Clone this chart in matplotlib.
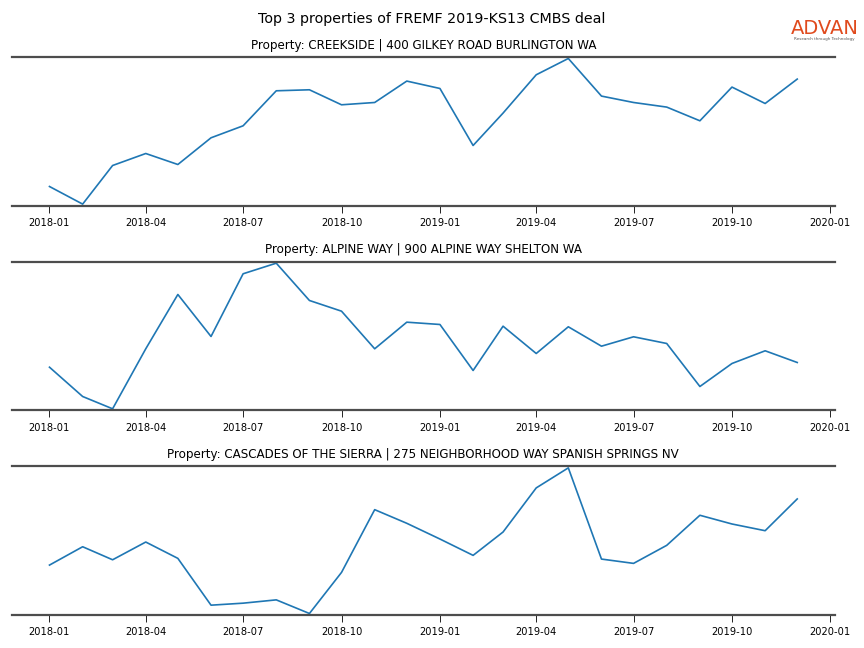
import pandas as pd
import matplotlib.pyplot as plt
import matplotlib.dates as mdates

# monthly foot traffic index, Jan 2018 - Dec 2019
months = pd.date_range("2018-01-01", "2019-12-01", freq="MS")

creekside = [18.3, 0.7, 39.3, 51.3, 40.3, 67.0, 79.0, 114.0, 115.0, 100.0, 102.3, 123.7,
             116.3, 59.3, 91.7, 130.0, 146.3, 108.7, 102.3, 97.7, 84.0, 117.7, 101.3, 125.7]
alpine_way = [43.3, 14.0, 1.7, 61.7, 116.0, 74.0, 136.7, 147.3, 110.0, 99.3, 61.7, 88.3,
              86.0, 40.0, 84.3, 57.0, 83.7, 64.3, 73.7, 67.0, 24.0, 47.0, 59.7, 48.0]
cascades = [50.7, 69.0, 56.0, 73.7, 57.4, 10.7, 12.7, 16.0, 2.4, 43.4, 106.0, 92.4,
            76.7, 60.4, 83.7, 127.7, 147.7, 56.7, 52.4, 70.4, 100.4, 91.7, 85.0, 116.7]

titles = [
    "Property: CREEKSIDE | 400 GILKEY ROAD BURLINGTON WA",
    "Property: ALPINE WAY | 900 ALPINE WAY SHELTON WA",
    "Property: CASCADES OF THE SIERRA | 275 NEIGHBORHOOD WAY SPANISH SPRINGS NV",
]
series = [creekside, alpine_way, cascades]

fig, axes = plt.subplots(3, 1, figsize=(8.64, 6.48), dpi=100)
fig.subplots_adjust(left=0.014, right=0.966, top=0.912, bottom=0.051, hspace=0.378)

for ax, values, title in zip(axes, series, titles):
    ax.plot(months, values, color="#1f77b4", linewidth=1.2)
    ax.set_title(title, fontsize=8.6)
    ax.margins(y=0.01)
    ax.set_yticks([])
    ax.xaxis.set_major_locator(mdates.MonthLocator(bymonth=[1, 4, 7, 10]))
    ax.xaxis.set_major_formatter(mdates.DateFormatter("%Y-%m"))
    ax.tick_params(axis="x", labelsize=7.1, length=5, width=0.6, pad=4)
    for side in ["left", "right"]:
        ax.spines[side].set_visible(False)
    for side in ["top", "bottom"]:
        ax.spines[side].set_color("#4d4d4d")
        ax.spines[side].set_linewidth(1.6)

fig.suptitle("Top 3 properties of FREMF 2019-KS13 CMBS deal", fontsize=10.3, y=0.982)

# logo
fig.text(0.9545, 0.956, "ADVAN", color="#e04a1d", fontsize=14, fontweight="medium",
         ha="center", va="center")
fig.text(0.9545, 0.940, "Research through Technology", color="#555555", fontsize=3,
         ha="center", va="center")

plt.savefig("out.png")
